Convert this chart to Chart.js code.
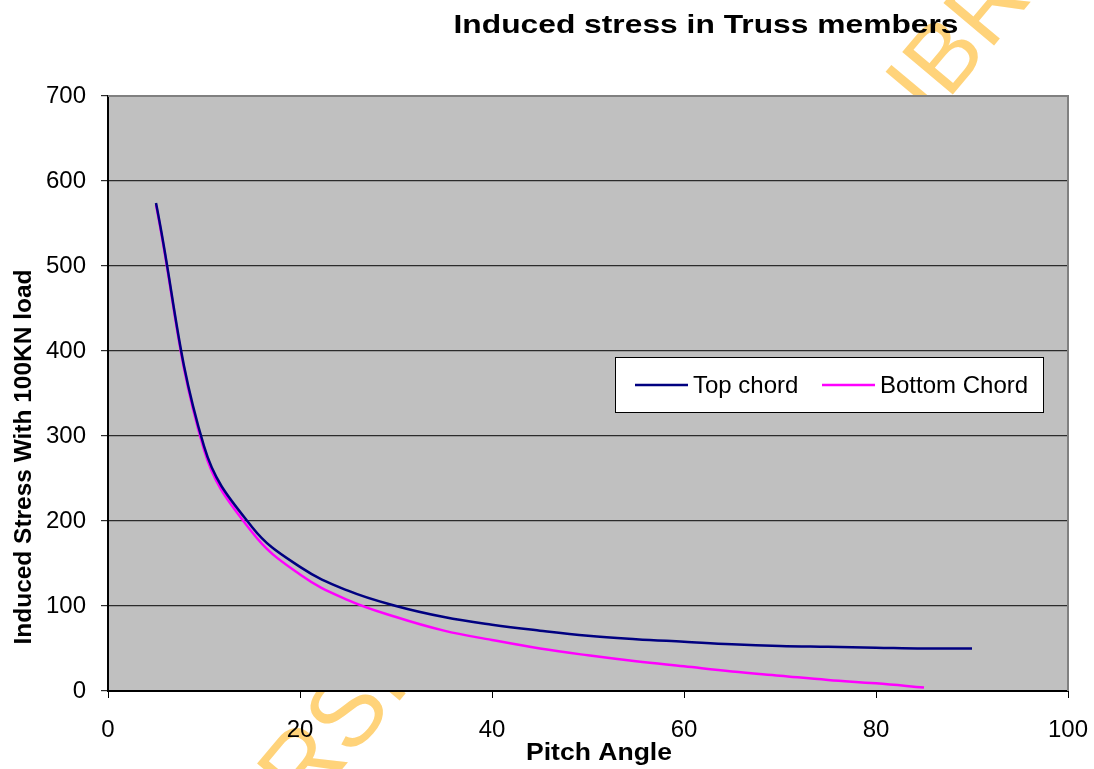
<!DOCTYPE html>
<html>
<head>
<meta charset="utf-8">
<script src="https://cdn.jsdelivr.net/npm/chart.js@4.4.1/dist/chart.umd.min.js"></script>
<style>
  html, body { margin: 0; padding: 0; background: #ffffff; }
  #wrap { width: 1094px; height: 769px; position: relative; }
</style>
</head>
<body>
<div id="wrap"><canvas id="chart" width="1094" height="769"></canvas></div>
<script>
// Pitch angle (degrees) and induced stress per member
const pitchAngles = [5, 10, 15, 20, 25, 30, 35, 40, 45, 50, 55, 60, 65, 70, 75, 80, 85, 90];
const topChord    = [574, 288, 193, 146, 118, 100, 87, 78, 71, 65, 61, 58, 55, 53, 52, 51, 50, 50];
const bottomChord = [572, 284, 187, 137, 107, 87, 71, 60, 50, 42, 35, 29, 23, 18, 13, 9, 4];

const seriesNames = ['Top chord', 'Bottom Chord'];
const xTickValues = [0, 20, 40, 60, 80, 100];
const yTickValues = [0, 100, 200, 300, 400, 500, 600, 700];

const chartTitle = 'Induced stress in Truss members';
const xTitle = 'Pitch Angle';
const yTitle = 'Induced Stress With 100KN load';
const watermarkWords = ['UNIVERSITY', 'LIBRARY'];

const FONT = "'Liberation Sans', Arial, sans-serif";

function toPoints(xs, ys) {
  return ys.map((y, i) => ({ x: xs[i], y: y }));
}

// Draw text centred on (x, y) stretched to a given length
function fitText(ctx, text, x, y, length, font, angle) {
  ctx.save();
  ctx.font = font;
  const w = ctx.measureText(text).width;
  ctx.translate(x, y);
  ctx.rotate(angle || 0);
  ctx.scale(length / w, 1);
  ctx.textAlign = 'left';
  ctx.textBaseline = 'alphabetic';
  ctx.fillStyle = '#000000';
  ctx.fillText(text, -w / 2, 0);
  ctx.restore();
}

// Place the centre of character `idx` of `word` at (cx, cy)
function placeWord(ctx, word, idx, cx, cy, angle, size) {
  ctx.save();
  ctx.font = size + 'px ' + FONT;
  const pre = ctx.measureText(word.slice(0, idx)).width;
  const cw = ctx.measureText(word[idx]).width;
  ctx.translate(cx, cy);
  ctx.rotate(angle);
  ctx.textBaseline = 'alphabetic';
  ctx.fillText(word, -(pre + cw / 2), size * 0.358);
  ctx.restore();
}

const backdrop = {
  id: 'backdrop',
  beforeDraw(chart) {
    const ctx = chart.ctx;
    const a = chart.chartArea;
    ctx.save();
    ctx.fillStyle = '#ffffff';
    ctx.fillRect(0, 0, chart.width, chart.height);
    // library stamp behind the plot
    ctx.fillStyle = '#FFD37A';
    const ang = -50 * Math.PI / 180;
    placeWord(ctx, watermarkWords[0], 6, 345, 710, ang, 100);
    placeWord(ctx, watermarkWords[1], 2, 942, 54, ang, 96);
    // plot area
    ctx.fillStyle = '#C0C0C0';
    ctx.fillRect(a.left, a.top, a.right - a.left, a.bottom - a.top);
    ctx.restore();
  },
  beforeDatasetsDraw(chart) {
    const ctx = chart.ctx;
    const a = chart.chartArea;
    ctx.save();
    ctx.strokeStyle = '#808080';
    ctx.lineWidth = 2;
    ctx.beginPath();
    ctx.moveTo(a.left, a.top);
    ctx.lineTo(a.right, a.top);
    ctx.lineTo(a.right, a.bottom);
    ctx.stroke();
    ctx.restore();
  },
  afterDraw(chart) {
    const ctx = chart.ctx;
    // titles
    fitText(ctx, chartTitle, 706, 33, 505, 'bold 26px ' + FONT, 0);
    fitText(ctx, xTitle, 599, 760, 146, 'bold 23px ' + FONT, 0);
    fitText(ctx, yTitle, 31, 457, 375, 'bold 24px ' + FONT, -Math.PI / 2);

    // legend box
    const bx = 615.5, by = 357.5, bw = 428, bh = 55;
    ctx.save();
    ctx.fillStyle = '#ffffff';
    ctx.fillRect(bx, by, bw, bh);
    ctx.strokeStyle = '#000000';
    ctx.lineWidth = 1;
    ctx.strokeRect(bx, by, bw, bh);
    const items = [
      { x0: 635, x1: 688, tx: 693 },
      { x0: 822, x1: 875, tx: 880 }
    ];
    const cy = 385;
    chart.data.datasets.forEach((ds, i) => {
      const it = items[i];
      ctx.strokeStyle = ds.borderColor;
      ctx.lineWidth = 2.5;
      ctx.beginPath();
      ctx.moveTo(it.x0, cy);
      ctx.lineTo(it.x1, cy);
      ctx.stroke();
      ctx.fillStyle = '#000000';
      ctx.font = '24px ' + FONT;
      ctx.textBaseline = 'middle';
      ctx.textAlign = 'left';
      ctx.fillText(ds.label, it.tx, cy + 1);
    });
    ctx.restore();
  }
};

new Chart(document.getElementById('chart'), {
  type: 'line',
  data: {
    datasets: [
      {
        label: seriesNames[0],
        data: toPoints(pitchAngles, topChord),
        borderColor: '#000080',
        borderWidth: 2.5,
        pointRadius: 0,
        fill: false,
        tension: 0.4
      },
      {
        label: seriesNames[1],
        data: toPoints(pitchAngles, bottomChord),
        borderColor: '#FF00FF',
        borderWidth: 2.5,
        pointRadius: 0,
        fill: false,
        tension: 0.4
      }
    ]
  },
  plugins: [backdrop],
  options: {
    responsive: false,
    animation: false,
    devicePixelRatio: 1,
    layout: { padding: { left: 0, right: 26, top: 96, bottom: 0 } },
    plugins: {
      legend: { display: false },
      title: { display: false },
      tooltip: { enabled: false }
    },
    scales: {
      x: {
        type: 'linear',
        min: 0,
        max: 100,
        afterFit(s) { s.height = 78; s.paddingLeft = 0; s.paddingRight = 0; },
        afterBuildTicks(s) { s.ticks = xTickValues.map(v => ({ value: v })); },
        ticks: {
          color: '#000000',
          font: { family: FONT, size: 24 },
          padding: 18,
          maxRotation: 0
        },
        grid: { drawOnChartArea: false, drawTicks: true, tickLength: 7, color: '#000000', lineWidth: 1 },
        border: { color: '#000000', width: 2 }
      },
      y: {
        type: 'linear',
        min: 0,
        max: 700,
        afterFit(s) { s.width = 108; s.paddingTop = 0; s.paddingBottom = 0; },
        afterBuildTicks(s) { s.ticks = yTickValues.map(v => ({ value: v })); },
        ticks: {
          color: '#000000',
          font: { family: FONT, size: 24 },
          padding: 15
        },
        grid: { color: '#2b2b2b', lineWidth: 1.2, tickLength: 7, drawTicks: true },
        border: { color: '#000000', width: 2 }
      }
    }
  }
});
</script>
</body>
</html>
